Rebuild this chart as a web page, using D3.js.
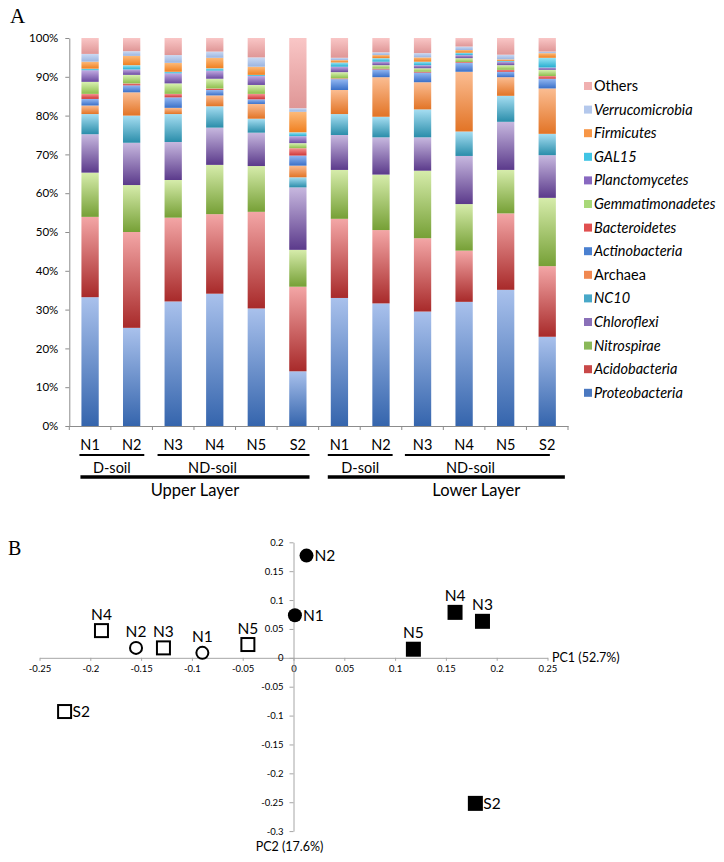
<!DOCTYPE html>
<html>
<head>
<meta charset="utf-8">
<script src="https://cdn.jsdelivr.net/npm/d3@7"></script>
<style>
  html, body { margin: 0; padding: 0; background: #fff; }
  svg { display: block; font-family: Lato, "Open Sans", sans-serif; }
</style>
</head>
<body>
<svg id="chart" width="724" height="862"></svg>
<script>
// ---------------- DATA ----------------
const barSamples = ["N1","N2","N3","N4","N5","S2","N1","N2","N3","N4","N5","S2"];
const seriesNames = ["Proteobacteria","Acidobacteria","Nitrospirae","Chloroflexi","NC10","Archaea",
  "Actinobacteria","Bacteroidetes","Gemmatimonadetes","Planctomycetes","GAL15","Firmicutes","Verrucomicrobia","Others"];
const proteobacteria   = [33.2,25.3,32.1,34.1,30.3,14.1,33.0,31.6,29.5,32.0,35.1,23.0];
const acidobacteria    = [20.7,24.7,21.6,20.5,24.9,21.8,20.4,18.9,18.9,13.2,19.7,18.2];
const nitrospirae      = [11.4,12.1,9.7,12.7,11.8,9.5,12.6,14.3,17.4,12.0,11.2,17.6];
const chloroflexi      = [9.9,10.9,9.8,9.6,8.6,16.1,9.0,9.6,8.6,12.4,12.4,11.0];
const nc10             = [5.2,7.0,7.2,5.5,3.6,2.6,5.4,5.3,7.2,6.3,6.7,5.5];
const archaea          = [2.2,6.0,1.6,2.8,3.8,3.0,6.2,10.2,7.0,15.4,4.8,11.7];
const actinobacteria   = [1.7,1.8,2.7,1.4,1.2,2.6,2.8,2.0,2.5,2.3,1.4,2.5];
const bacteroidetes    = [1.3,0.5,0.9,0.4,1.4,1.9,0.2,0.2,0.2,0.2,0.5,0.7];
const gemmatimonadetes = [3.1,2.2,2.7,2.5,2.3,1.3,1.6,0.9,0.9,1.0,1.2,1.6];
const planctomycetes   = [3.0,1.4,2.6,2.1,2.3,1.8,1.4,0.9,0.8,0.8,0.9,0.6];
const gal15            = [0.4,1.1,0.4,0.6,0.3,1.0,1.1,0.9,0.9,0.6,0.2,2.5];
const firmicutes       = [1.8,2.4,2.3,2.7,2.1,5.3,0.6,0.8,1.1,0.7,0.4,1.2];
const verrucomicrobia  = [2.0,1.2,2.0,1.6,2.4,0.9,0.6,0.7,1.1,0.9,1.2,0.4];
const others           = [4.1,3.4,4.4,3.5,5.0,18.1,5.1,3.7,3.9,2.2,4.3,3.5];
const seriesValues = [proteobacteria,acidobacteria,nitrospirae,chloroflexi,nc10,archaea,
  actinobacteria,bacteroidetes,gemmatimonadetes,planctomycetes,gal15,firmicutes,verrucomicrobia,others];
const italicSeries = seriesNames.map(n => n !== "Others" && n !== "Archaea");
const yTicksBar = [0,10,20,30,40,50,60,70,80,90,100];

const soilLabels  = ["D-soil","ND-soil","D-soil","ND-soil"];
const soilFirst   = [0,2,6,8];
const soilLast    = [1,5,7,11];
const layerLabels = ["Upper Layer","Lower Layer"];
const layerFirst  = [0,6];
const layerLast   = [5,11];

const pcaSamples = ["N1","N2","N3","N4","N5","S2"];
const pcaShape   = ["circle","circle","square","square","square","square"];
const upperPC1 = [-0.0897,-0.155,-0.128,-0.189,-0.0449,-0.2253];
const upperPC2 = [0.0086,0.0172,0.0172,0.0471,0.023,-0.093];
const lowerPC1 = [0.0014,0.0128,0.186,0.159,0.118,0.179];
const lowerPC2 = [0.0736,0.177,0.0632,0.0787,0.0149,-0.252];
const upperLabelSide = ["top","top","top","top","top","right"];
const lowerLabelSide = ["right","right","top","top","top","right"];
const pcXTicks = [-0.25,-0.2,-0.15,-0.1,-0.05,0,0.05,0.1,0.15,0.2,0.25];
const pcYTicks = [-0.3,-0.25,-0.2,-0.15,-0.1,-0.05,0,0.05,0.1,0.15,0.2];

// ---------------- STYLES ----------------
const gradColors = {
  Proteobacteria:["#3565ad","#a9c1ec"], Acidobacteria:["#a82a2a","#f3a6a6"],
  Nitrospirae:["#76a036","#d6ecab"], Chloroflexi:["#5b3a8b","#c7b8df"],
  NC10:["#2a8daa","#a6def2"], Archaea:["#e27426","#fbbd92"],
  Actinobacteria:["#3a70c8","#94b8f2"], Bacteroidetes:["#cf3636","#f59494"],
  Gemmatimonadetes:["#8dbe4c","#d9f1b2"], Planctomycetes:["#6a4aa0","#c2aae2"],
  GAL15:["#26aed0","#9ae5f5"], Firmicutes:["#f08020","#fcba7a"],
  Verrucomicrobia:["#9ab4e0","#cbdaf3"], Others:["#df9696","#f9c6c6"]
};
const legendColors = {
  Proteobacteria:"#4a78c0", Acidobacteria:"#c84848", Nitrospirae:"#8ab858", Chloroflexi:"#8a70b8",
  NC10:"#48a8c8", Archaea:"#f08850", Actinobacteria:"#4a80d0", Bacteroidetes:"#e05050",
  Gemmatimonadetes:"#a8d878", Planctomycetes:"#8868c0", GAL15:"#40c4e4", Firmicutes:"#f79646",
  Verrucomicrobia:"#b4c8ec", Others:"#f0b0b0"
};
const axisGray = "#8c8c8c";
// layout tweaks for group annotations (left/right line extension, label shift)
const soilLineExt  = [[-2,4],[-7,3],[-3,3],[-9,-6]];
const soilTextShift = [0,-21,0,-7];
const layerLineExt = [[-1,3],[-3,9]];
const layerTextShift = [0,30];

const svg = d3.select("#chart");
const defs = svg.append("defs");
seriesNames.forEach((n,i) => {
  const g = defs.append("linearGradient").attr("id","g"+i)
    .attr("x1",0).attr("y1",1).attr("x2",0).attr("y2",0);
  g.append("stop").attr("offset","0%").attr("stop-color",gradColors[n][0]);
  g.append("stop").attr("offset","100%").attr("stop-color",gradColors[n][1]);
});

// ---------------- PANEL A ----------------
svg.append("text").attr("x",10).attr("y",23).attr("font-family","'Liberation Serif', 'DejaVu Serif', serif")
  .attr("font-size",21).text("A");

const xBar = d3.scaleBand().domain(d3.range(barSamples.length)).range([69.3,568])
  .paddingInner(0.584).paddingOuter(0.292);
const yBar = d3.scaleLinear().domain([0,100]).range([426,38]);

const table = barSamples.map((s,i) => {
  const row = {idx:i};
  seriesNames.forEach((n,k) => row[n] = seriesValues[k][i]);
  return row;
});
const stacked = d3.stack().keys(seriesNames)(table);

const barG = svg.append("g");
stacked.forEach((layer,k) => {
  barG.append("g").attr("fill","url(#g"+k+")")
    .selectAll("rect").data(layer).join("rect")
    .attr("x", d => xBar(d.data.idx))
    .attr("width", xBar.bandwidth())
    .attr("y", d => yBar(d[1]))
    .attr("height", d => yBar(d[0]) - yBar(d[1]));
});

// y axis
const yAxA = svg.append("g").attr("transform","translate(69.3,0)")
  .call(d3.axisLeft(yBar).tickValues(yTicksBar).tickFormat(d => d+"%").tickSize(4).tickPadding(7).tickSizeOuter(0));
yAxA.select(".domain").attr("stroke",axisGray);
yAxA.selectAll(".tick line").attr("stroke",axisGray);
yAxA.selectAll("text").attr("font-size",11.5).attr("fill","#000").attr("font-family","Lato, sans-serif");

// x axis
const xAxA = svg.append("g").attr("transform","translate(0,426)")
  .call(d3.axisBottom(xBar).tickFormat(i => barSamples[i]).tickSize(0).tickPadding(14));
xAxA.select(".domain").attr("stroke",axisGray);
xAxA.selectAll("text").attr("font-size",14.5).attr("fill","#000").attr("font-family","Lato, sans-serif");
const step = xBar.step();
const x0 = xBar.range()[0];
svg.append("g").selectAll("line").data(d3.range(barSamples.length+1)).join("line")
  .attr("x1", i => x0 + i*step).attr("x2", i => x0 + i*step)
  .attr("y1",426).attr("y2",430).attr("stroke",axisGray);

// group lines
const bw = xBar.bandwidth();
soilLabels.forEach((lab,i) => {
  const xa = xBar(soilFirst[i]) + soilLineExt[i][0], xb = xBar(soilLast[i]) + bw + soilLineExt[i][1];
  svg.append("line").attr("x1",xa).attr("x2",xb).attr("y1",455).attr("y2",455)
    .attr("stroke","#000").attr("stroke-width",2);
  svg.append("text").attr("x",(xa+xb)/2 + soilTextShift[i]).attr("y",473)
    .attr("text-anchor","middle").attr("font-size",14.5).text(lab);
});
layerLabels.forEach((lab,i) => {
  const xa = xBar(layerFirst[i]) + layerLineExt[i][0], xb = xBar(layerLast[i]) + bw + layerLineExt[i][1];
  svg.append("line").attr("x1",xa).attr("x2",xb).attr("y1",477).attr("y2",477)
    .attr("stroke","#000").attr("stroke-width",3.5);
  svg.append("text").attr("x",(xa+xb)/2 + layerTextShift[i]).attr("y",496)
    .attr("text-anchor","middle").attr("font-size",16.5).text(lab);
});

// legend
const legOrder = seriesNames.slice().reverse();
const leg = svg.append("g");
legOrder.forEach((n,i) => {
  const yc = 86 + i*23.6;
  const k = seriesNames.indexOf(n);
  leg.append("rect").attr("x",584).attr("y",yc-4).attr("width",8).attr("height",8).attr("fill",legendColors[n]);
  leg.append("text").attr("x",594).attr("y",yc).attr("dy","0.35em").attr("font-size",14.5)
    .attr("font-style", italicSeries[k] ? "italic" : "normal").text(n);
});

// ---------------- PANEL B ----------------
svg.append("text").attr("x",8).attr("y",555).attr("font-family","'Liberation Serif', 'DejaVu Serif', serif")
  .attr("font-size",20).text("B");

const xS = d3.scaleLinear().domain([-0.25,0.25]).range([39.5,547.5]);
const yS = d3.scaleLinear().domain([-0.3,0.2]).range([831.1,542.3]);
const fmt = d => String(+d.toFixed(2));

const xAxB = svg.append("g").attr("transform",`translate(0,${yS(0)})`)
  .call(d3.axisBottom(xS).tickValues(pcXTicks).tickFormat(fmt).tickSize(3).tickPadding(4).tickSizeOuter(0));
const yAxB = svg.append("g").attr("transform",`translate(${xS(0)},0)`)
  .call(d3.axisLeft(yS).tickValues(pcYTicks).tickFormat(fmt).tickSize(4).tickPadding(6).tickSizeOuter(0));
[xAxB,yAxB].forEach(a => {
  a.select(".domain").attr("stroke","#a6a6a6");
  a.selectAll(".tick line").attr("stroke","#a6a6a6");
  a.selectAll("text").attr("font-size",9.5).attr("fill","#000").attr("font-family","Lato, sans-serif");
});
svg.append("text").attr("x",552).attr("y",yS(0)).attr("dy","0.35em").attr("font-size",12.5).text("PC1 (52.7%)");
svg.append("text").attr("x",xS(0)-4).attr("y",851).attr("text-anchor","middle").attr("font-size",12.5).text("PC2 (17.6%)");

function drawPoints(xs, ys, sides, filled) {
  const g = svg.append("g");
  pcaSamples.forEach((s,i) => {
    const cx = xS(xs[i]), cy = yS(ys[i]);
    if (pcaShape[i] === "circle") {
      g.append("circle").attr("cx",cx).attr("cy",cy).attr("r", filled ? 7 : 6)
        .attr("fill", filled ? "#000" : "#fff").attr("stroke","#000").attr("stroke-width", filled ? 0 : 2);
    } else {
      const h = filled ? 7.5 : 6.5;
      g.append("rect").attr("x",cx-h).attr("y",cy-h).attr("width",2*h).attr("height",2*h)
        .attr("fill", filled ? "#000" : "#fff").attr("stroke","#000").attr("stroke-width", filled ? 0 : 2);
    }
    const t = g.append("text").attr("font-size",15.5).text(s);
    if (sides[i] === "top") {
      t.attr("x",cx).attr("y",cy-11).attr("text-anchor","middle");
    } else {
      t.attr("x",cx+8).attr("y",cy).attr("dy","0.36em");
    }
  });
}
drawPoints(upperPC1, upperPC2, upperLabelSide, false);
drawPoints(lowerPC1, lowerPC2, lowerLabelSide, true);
</script>
</body>
</html>
